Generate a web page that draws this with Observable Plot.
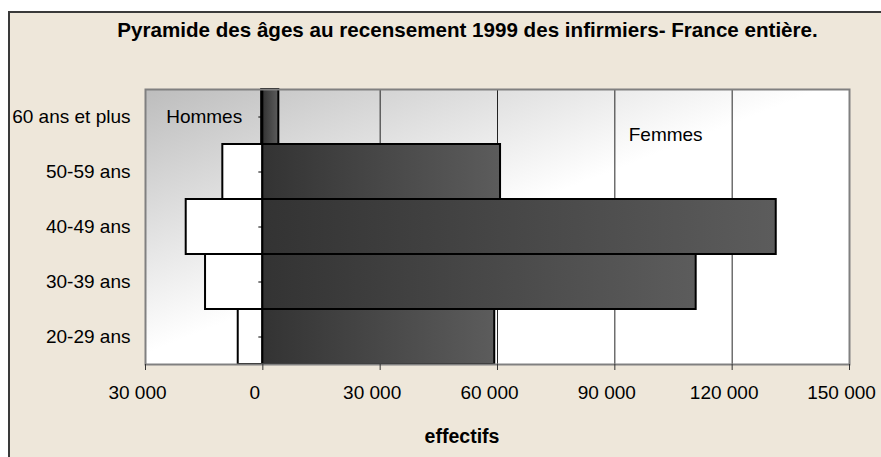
<!DOCTYPE html>
<html>
<head>
<meta charset="utf-8">
<script src="https://cdn.jsdelivr.net/npm/d3@7"></script>
<script src="https://cdn.jsdelivr.net/npm/@observablehq/plot@0.6"></script>
<style>
  body { margin: 0; background: #fff; font-family: "Liberation Sans", Arial, sans-serif; }
  #wrap { position: relative; width: 881px; height: 457px; overflow: hidden; }
  #panel { position: absolute; left: 8px; top: 11px; width: 900px; height: 500px;
           background: #EEE7DA; border-left: 2px solid #3a3a3a; border-top: 2px solid #3a3a3a; }
  #title { position: absolute; left: 0; top: 20px; width: 935px; text-align: center;
           font-weight: bold; font-size: 20.6px; line-height: 20px; color: #000; white-space: nowrap; }
  #xlabel { position: absolute; left: 0; top: 427px; width: 924px; text-align: center;
            font-weight: bold; font-size: 19.5px; line-height: 19px; color: #000; }
  #chart { position: absolute; left: 0; top: 0; }
</style>
</head>
<body>
<div id="wrap">
  <div id="panel"></div>
  <div id="title">Pyramide des âges au recensement 1999 des infirmiers- France entière.</div>
  <div id="chart"></div>
  <div id="xlabel">effectifs</div>
</div>
<script>
// Age groups, top to bottom
const ageGroups = ["60 ans et plus", "50-59 ans", "40-49 ans", "30-39 ans", "20-29 ans"];
// Men (Hommes) counts
const hommes = [300, 10230, 19590, 14650, 6290];
// Women (Femmes) counts
const femmes = [4090, 60780, 131270, 110800, 59300];
// x-axis ticks
const xTicks = [-30000, 0, 30000, 60000, 90000, 120000, 150000];
// series labels
const seriesLabels = ["Hommes", "Femmes"];

const rows = ageGroups.map((g, i) => ({age: g, hommes: hommes[i], femmes: femmes[i]}));
const fmt = d3.formatLocale({decimal: ",", thousands: " ", grouping: [3], currency: ["", " €"]}).format(",d");

const svg = Plot.plot({
  width: 881,
  height: 457,
  marginLeft: 145,
  marginRight: 32,
  marginTop: 89,
  marginBottom: 93,
  style: {background: "transparent", fontFamily: "'Liberation Sans', Arial, sans-serif", fontSize: "19px", color: "#000", overflow: "visible"},
  x: {domain: [-30000, 150000], label: null},
  y: {type: "band", domain: ageGroups, padding: 0, label: null},
  marks: [
    Plot.frame({fill: "url(#bgGrad)", stroke: null}),
    Plot.gridX({ticks: xTicks, stroke: "#000", strokeOpacity: 0.85, strokeWidth: 1}),
    Plot.barX(rows, {y: "age", x1: 0, x2: d => -d.hommes, fill: "#fff", stroke: "#000", strokeWidth: 2}),
    Plot.barX(rows, {y: "age", x1: 0, x2: "femmes", fill: "url(#femGrad)", stroke: "#000", strokeWidth: 2}),
    Plot.ruleY(ageGroups, {y: d => d, x1: 0, x2: 0, insetLeft: -4, stroke: "#000", strokeWidth: 1}),
    Plot.text([seriesLabels[0]], {text: d => d, x: () => -15000, y: () => ageGroups[0], fontSize: 19, fill: "#000"}),
    Plot.text([seriesLabels[1]], {text: d => d, x: () => 103000, y: () => ageGroups[0], dy: 18, fontSize: 19, fill: "#000"}),
    Plot.frame({stroke: "#808080", strokeWidth: 2, fill: null}),
    Plot.axisY({tickSize: 0, tickPadding: 15, fontSize: 19, label: null}),
    Plot.axisX({ticks: xTicks, tickSize: 6, tickPadding: 15, tickFormat: d => fmt(Math.abs(d)), fontSize: 19, stroke: "#333", label: null}),
  ]
});

// shift x tick labels slightly left, as in the reference
d3.select(svg).selectAll("[aria-label='x-axis tick label'] text").attr("dx", -8);

d3.select(svg).insert("defs", ":first-child").html(`
  <linearGradient id="bgGrad" x1="0" y1="0" x2="1" y2="1">
    <stop offset="0" stop-color="#bdbdbd"/>
    <stop offset="0.48" stop-color="#ffffff"/>
    <stop offset="1" stop-color="#ffffff"/>
  </linearGradient>
  <linearGradient id="femGrad" x1="0" y1="0" x2="1" y2="0">
    <stop offset="0" stop-color="#333333"/>
    <stop offset="1" stop-color="#5c5c5c"/>
  </linearGradient>
`);

document.getElementById("chart").appendChild(svg);
</script>
</body>
</html>
